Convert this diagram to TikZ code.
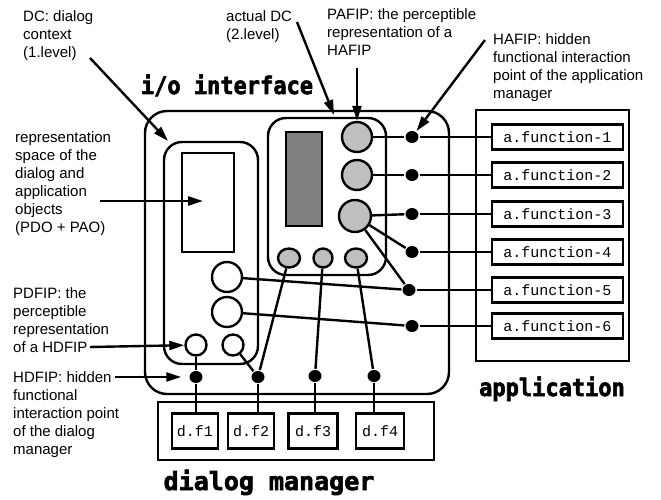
\documentclass[tikz,border=0pt]{standalone}
\usepackage{fontspec}
\setmainfont{Liberation Sans}
\newfontfamily\courfont{Liberation Mono}
\newfontfamily\blockfont{DejaVu Sans Mono}[BoldFeatures={FakeBold=2.5}]
\usetikzlibrary{arrows.meta,shapes.geometric}
\begin{document}
\begin{tikzpicture}[x=1pt,y=-1pt]
\tikzstyle{every path}=[line width=2.4pt]
\edef\sizefip{30pt}
\tikzstyle{note}=[anchor=north west,inner sep=0pt,align=left,font=\fontsize{15}{18}\selectfont]
\tikzstyle{title}=[anchor=base,inner sep=0pt,font=\blockfont\bfseries\fontsize{22}{22}\selectfont]
\tikzstyle{pointer}=[-{Triangle[length=15pt,width=9pt]}]
\tikzstyle{dcbox}=[draw,rounded corners=18pt]
\tikzstyle{pafip}=[circle,draw,fill=black!25,inner sep=0pt,minimum size=\sizefip]
\tikzstyle{pafipsmall}=[ellipse,draw,fill=black!25,inner sep=0pt,minimum width=22pt,minimum height=19pt]
\tikzstyle{pdfip}=[circle,draw,fill=white,inner sep=0pt,minimum size=\sizefip]
\tikzstyle{hfip}=[ellipse,fill=black,inner sep=0pt,minimum width=13pt,minimum height=12pt]
\tikzstyle{afun}=[draw,inner sep=0pt,minimum width=131pt,minimum height=25pt,font=\courfont\fontsize{15}{15}\selectfont]
\tikzstyle{dfun}=[draw,inner sep=0pt,minimum width=46pt,minimum height=35pt,font=\courfont\fontsize{15}{15}\selectfont]
\useasboundingbox (0,0) rectangle (661,500);

\node [draw,rounded corners=22pt,minimum width=304pt,minimum height=283pt] (io) at (297,252.5) {};
\node [dcbox,minimum width=94pt,minimum height=222pt] (dcone) at (211,253) {};
\node [dcbox,minimum width=118pt,minimum height=157pt] (dctwo) at (327,196.5) {};
\node [draw,minimum width=52pt,minimum height=99pt] (repr) at (208,202.5) {};
\node [draw,fill=black!50,minimum width=36pt,minimum height=94pt] (screen) at (304,179) {};
\node [draw,minimum width=153pt,minimum height=251pt] (app) at (552.5,235.5) {};
\node [draw,minimum width=276pt,minimum height=58pt] (dm) at (296,431) {};

\node [title] (iotitle) at (227,94) {\scalebox{1}[1.1]{i/o interface}};
\node [title] (apptitle) at (552,396) {\scalebox{1}[1.1]{application}};
\node [title,font=\blockfont\bfseries\fontsize{25}{25}\selectfont] (dmtitle) at (269,490) {dialog manager};

\node [pafip] (pa1) at (357,137) {};
\node [pafip] (pa2) at (357,175) {};
\node [pafip,minimum size=32pt] (pa3) at (355,216) {};
\node [pafipsmall] (el1) at (289,258) {};
\node [pafipsmall,minimum width=19pt] (el2) at (323,258) {};
\node [pafipsmall] (el3) at (356,258) {};

\node [pdfip] (wa) at (227,277) {};
\node [pdfip] (wb) at (227,312) {};
\node [pdfip,minimum size=21pt] (sc1) at (196,345) {};
\node [pdfip,minimum size=21pt] (sc2) at (233,345) {};

\node [hfip] (ha1) at (412,137) {};
\node [hfip] (ha2) at (412,175) {};
\node [hfip] (ha3) at (412,214) {};
\node [hfip] (ha4) at (412,252) {};
\node [hfip] (ha5) at (409,290) {};
\node [hfip] (ha6) at (412,326) {};
\node [hfip] (hd1) at (196,377) {};
\node [hfip] (hd2) at (258,377) {};
\node [hfip] (hd3) at (315,376) {};
\node [hfip] (hd4) at (374,376) {};

\node [afun] (af1) at (557.5,137) {a.function-1};
\node [afun] (af2) at (557.5,175) {a.function-2};
\node [afun] (af3) at (557.5,214) {a.function-3};
\node [afun] (af4) at (557.5,252) {a.function-4};
\node [afun] (af5) at (557.5,290) {a.function-5};
\node [afun] (af6) at (557.5,326) {a.function-6};

\node [dfun] (df1) at (195,431) {d.f1};
\node [dfun] (df2) at (251,431) {d.f2};
\node [dfun,minimum width=49pt] (df3) at (313,431) {d.f3};
\node [dfun,minimum width=48pt] (df4) at (380,431) {d.f4};

\draw (pa1) -- (ha1); \draw (ha1) -- (af1);
\draw (pa2) -- (ha2); \draw (ha2) -- (af2);
\draw (pa3) -- (ha3); \draw (ha3) -- (af3);
\draw (pa3) -- (ha4); \draw (ha4) -- (af4);
\draw (pa3) -- (ha5); \draw (ha5) -- (af5);
\draw (wa) -- (ha5);
\draw (wb) -- (ha6); \draw (ha6) -- (af6);
\draw (sc1) -- (hd1); \draw (hd1) -- (hd1 |- df1.north);
\draw (sc2) -- (hd2); \draw (el1) -- (hd2); \draw (hd2) -- (hd2 |- df2.north);
\draw (el2) -- (hd3); \draw (hd3) -- (hd3 |- df3.north);
\draw (el3) -- (hd4); \draw (hd4) -- (hd4 |- df4.north);

\node [note] (dcnote) at (22,9) {DC: dialog\\context\\(1.level)};
\node [note] (actnote) at (225,9) {actual DC\\(2.level)};
\node [note] (panote) at (326,7) {PAFIP: the perceptible\\representation of a\\HAFIP};
\node [note] (hanote) at (492,32) {HAFIP: hidden\\functional interaction\\point of the application\\manager};
\node [note] (repnote) at (14,130) {representation\\space of the\\dialog and\\application\\objects\\(PDO + PAO)};
\node [note] (pdnote) at (12,286) {PDFIP: the\\perceptible\\representation\\of a HDFIP};
\node [note] (hdnote) at (12,370) {HDFIP: hidden\\functional\\interaction point\\of the dialog\\manager};

\coordinate (dcfrom) at (90,58);
\coordinate (dcto) at (168,141);
\coordinate (actfrom) at (297,22);
\coordinate (actto) at (334,115);
\coordinate (pafrom) at (357,68);
\coordinate (hafrom) at (485,40);
\coordinate (repfrom) at (100,201);
\coordinate (repto) at (203,201);
\coordinate (pdfrom) at (90,347);
\coordinate (hdfrom) at (115,377);
\draw [pointer] (dcfrom) -- (dcto);
\draw [pointer] (actfrom) -- (actto);
\draw [pointer] (pafrom) -- (pa1);
\draw [pointer] (hafrom) -- (ha1);
\draw [pointer] (repfrom) -- (repto);
\draw [pointer] (pdfrom) -- (sc1);
\draw [pointer] (hdfrom) -- ([xshift=-7pt]hd1.west);
\end{tikzpicture}
\end{document}
